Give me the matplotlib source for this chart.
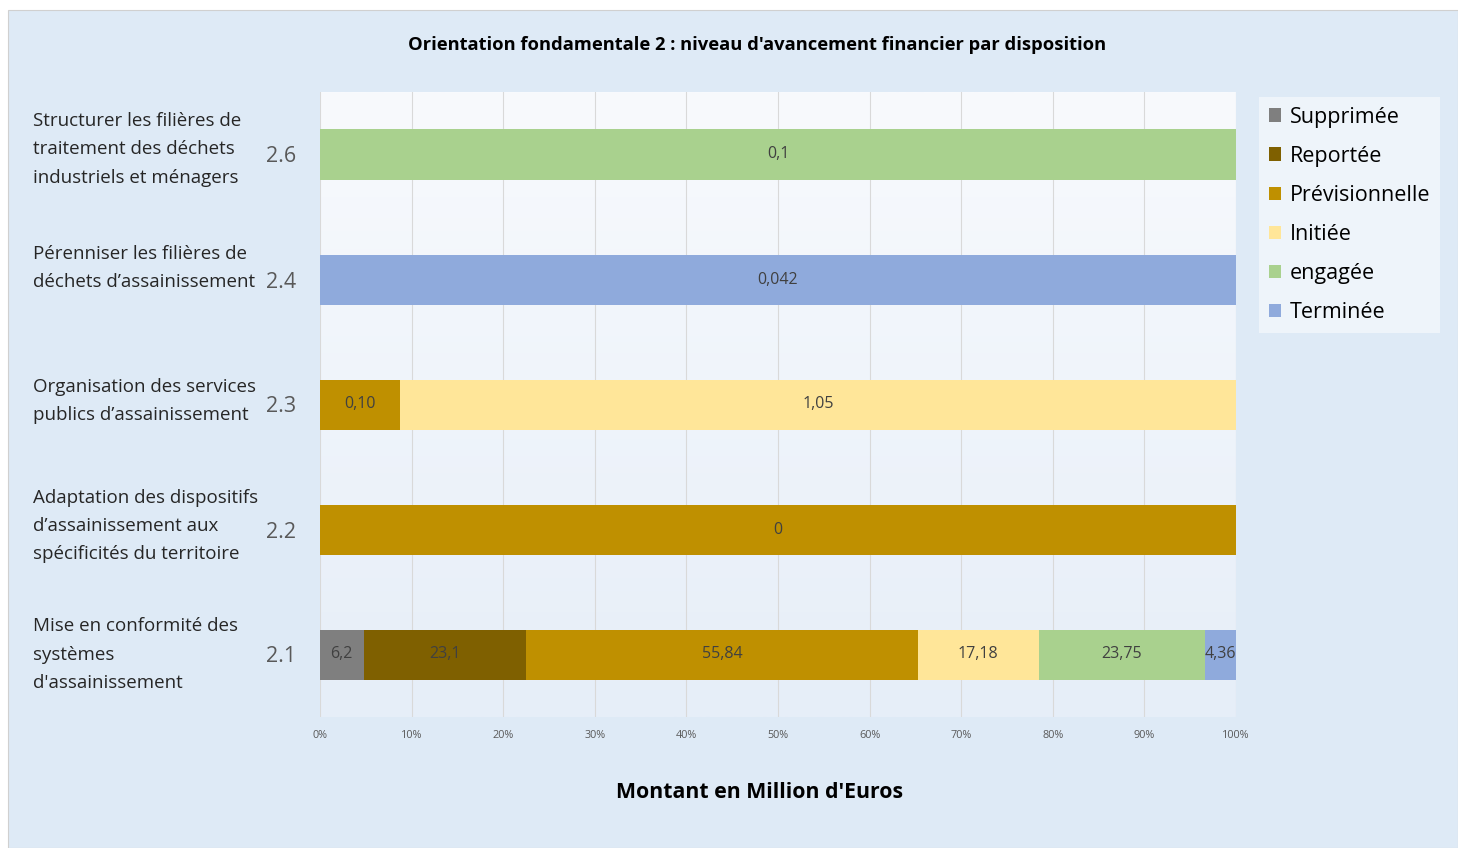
import matplotlib
matplotlib.use("Agg")
import matplotlib.pyplot as plt
import numpy as np
from matplotlib.patches import Rectangle
from matplotlib.transforms import blended_transform_factory

# ---- data ----
codes = ["2.1", "2.2", "2.3", "2.4", "2.6"]
descriptions = [
    "Mise en conformité des\nsystèmes\nd'assainissement",
    "Adaptation des dispositifs\nd\u2019assainissement aux\nspécificités du territoire",
    "Organisation des services\npublics d\u2019assainissement",
    "Pérenniser les filières de\ndéchets d\u2019assainissement",
    "Structurer les filières de\ntraitement des déchets\nindustriels et ménagers",
]
series = ["Supprimée", "Reportée", "Prévisionnelle", "Initiée", "engagée", "Terminée"]
supprimee      = [6.2,  0,     0,    0,     0]
reportee       = [23.1, 0,     0,    0,     0]
previsionnelle = [55.84, 0.004, 0.10, 0,    0]
initiee        = [17.18, 0,    1.05, 0,     0]
engagee        = [23.75, 0,    0,    0,     0.1]
terminee       = [4.36, 0,     0,    0.042, 0]
label_supprimee      = ["6,2", "", "", "", ""]
label_reportee       = ["23,1", "", "", "", ""]
label_previsionnelle = ["55,84", "0", "0,10", "", ""]
label_initiee        = ["17,18", "", "1,05", "", ""]
label_engagee        = ["23,75", "", "", "", "0,1"]
label_terminee       = ["4,36", "", "", "0,042", ""]
colors = ["#7F7F7F", "#7F6000", "#BF9000", "#FFE699", "#A9D18E", "#8FAADC"]
xticks = [0, 0.1, 0.2, 0.3, 0.4, 0.5, 0.6, 0.7, 0.8, 0.9, 1.0]
xtick_labels = ["0%", "10%", "20%", "30%", "40%", "50%", "60%", "70%", "80%", "90%", "100%"]

values = np.array([supprimee, reportee, previsionnelle, initiee, engagee, terminee], dtype=float)
labels = [label_supprimee, label_reportee, label_previsionnelle, label_initiee, label_engagee, label_terminee]
totals = values.sum(axis=0)
shares = values / totals

W, H = 1458, 848
plt.rcParams["font.family"] = ["Open Sans", "DejaVu Sans"]
fig = plt.figure(figsize=(W / 100, H / 100), dpi=100, facecolor="white")

# outer chart background
bg = Rectangle((8 / W, 0), 1 - 8 / W, (H - 10) / H, transform=fig.transFigure,
               facecolor="#DEEAF6", edgecolor="#D0D0D0", linewidth=0.8, zorder=-10)
fig.patches.append(bg)

L, R, T, B = 320, 1236, 92, 717
ax = fig.add_axes([L / W, 1 - B / H, (R - L) / W, (B - T) / H])
ax.set_facecolor("none")

# gradient plot area
grad = np.linspace(0, 1, 256).reshape(-1, 1)
top_c = np.array([0xF8, 0xFA, 0xFD]) / 255
bot_c = np.array([0xE6, 0xEE, 0xF8]) / 255
img = top_c[None, None, :] * (1 - grad[:, :, None]) + bot_c[None, None, :] * grad[:, :, None]
ax.imshow(img, extent=[0, 1, 0, 1], transform=ax.transAxes, aspect="auto", zorder=0)

y = np.arange(len(codes))
left = np.zeros(len(codes))
for i, name in enumerate(series):
    ax.barh(y, shares[i], left=left, height=0.4, color=colors[i], label=name, zorder=3)
    for j in range(len(codes)):
        if labels[i][j]:
            ax.text(left[j] + shares[i][j] / 2, y[j], labels[i][j], ha="center", va="center",
                    fontsize=11.5, color="#404040", zorder=4)
    left += shares[i]

ax.set_xlim(0, 1)
ax.set_ylim(-0.5, len(codes) - 0.5)
ax.set_xticks(xticks)
ax.set_xticklabels(xtick_labels, fontsize=7.8, color="#595959")
ax.grid(axis="x", color="#D9D9D9", linewidth=0.8, zorder=1)
ax.set_yticks(y)
ax.set_yticklabels(codes, fontsize=15.5, color="#595959")
ax.tick_params(axis="y", length=0, pad=17)
ax.tick_params(axis="x", length=0, pad=9)
for s in ax.spines.values():
    s.set_visible(False)

trans = blended_transform_factory(fig.transFigure, ax.transData)
desc_offsets = [0.0, 0.03, 0.03, 0.09, 0.04]
for j, d in enumerate(descriptions):
    ax.text(33 / W, y[j] + desc_offsets[j], d, transform=trans, ha="left", va="center",
            fontsize=13.5, color="#262626", linespacing=1.72)

fig.text(757 / W, 1 - 45 / H, "Orientation fondamentale 2 : niveau d'avancement financier par disposition",
         ha="center", va="center", fontsize=13.2, fontweight="bold", color="#000000")
fig.text(760 / W, 1 - 792 / H, "Montant en Million d'Euros", ha="center", va="center",
         fontsize=15.3, fontweight="bold", color="#000000")

leg = fig.legend(loc="upper left", bbox_to_anchor=(1259 / W, 1 - 97 / H), frameon=True,
                 fontsize=15.5, handlelength=0.58, handleheight=0.58, handletextpad=0.42,
                 labelspacing=0.84, borderpad=0.45, borderaxespad=0, fancybox=False)
leg.get_frame().set_facecolor("#F3F7FC")
leg.get_frame().set_edgecolor("none")

fig.savefig("out.png", dpi=100, facecolor="white")
